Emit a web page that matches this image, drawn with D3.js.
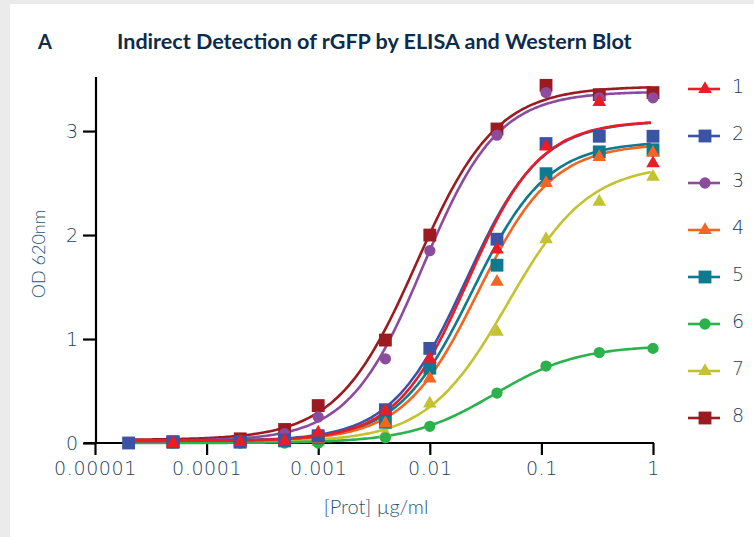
<!DOCTYPE html>
<html>
<head>
<meta charset="utf-8">
<script src="https://cdn.jsdelivr.net/npm/d3@7"></script>
<style>
  html, body { margin: 0; padding: 0; background: #ebebeb; }
  svg { display: block; }
  text { font-family: Lato, "Open Sans", sans-serif; }
  .num { font-family: "DejaVu Sans", sans-serif; font-weight: 200; }
</style>
</head>
<body>
<div id="chart"></div>
<script>
const W = 754, H = 537;

// concentrations (µg/ml) shared by all series
const conc = [0.00002, 0.00005, 0.0002, 0.0005, 0.001, 0.004, 0.01, 0.04, 0.11, 0.33, 1];

const seriesNames = ["1", "2", "3", "4", "5", "6", "7", "8"];
const colors = ["#ec1c24", "#3a53a4", "#8b4c9d", "#f26522", "#0d7a8f", "#2bb24c", "#c3c231", "#9b1b20"];
const shapes = ["triangle", "square", "circle", "triangle", "square", "circle", "triangle", "square"];

// OD 620nm readings
const od1 = [null, 0.00, 0.01, 0.02, 0.10, 0.31, 0.81, 1.86, 2.85, 3.28, 2.69];
const od2 = [0.00, 0.01, 0.01, 0.03, 0.07, 0.32, 0.91, 1.96, 2.88, 2.95, 2.95];
const od3 = [null, 0.01, 0.02, 0.09, 0.25, 0.81, 1.85, 2.96, 3.37, 3.32, 3.32];
const od4 = [null, 0.00, 0.00, 0.01, 0.04, 0.19, 0.62, 1.55, 2.50, 2.75, 2.79];
const od5 = [null, 0.01, 0.01, 0.02, 0.05, 0.20, 0.72, 1.71, 2.59, 2.80, 2.82];
const od6 = [null, 0.00, 0.00, 0.00, 0.00, 0.05, 0.16, 0.48, 0.74, 0.87, 0.91];
const od7 = [null, 0.00, 0.00, 0.00, 0.01, 0.09, 0.38, 1.07, 1.96, 2.32, 2.56];
const od8 = [null, 0.01, 0.04, 0.13, 0.36, 0.99, 2.00, 3.02, 3.44, 3.35, 3.37];
const odValues = [od1, od2, od3, od4, od5, od6, od7, od8];

// 4-parameter logistic fit per series
const fitBottom = [0.02, 0.02, 0.02, 0.02, 0.02, 0.00, 0.01, 0.03];
const fitTop    = [3.10, 3.10, 3.38, 2.88, 2.90, 0.94, 2.68, 3.43];
const fitEC50   = [0.022, 0.021, 0.0087, 0.027, 0.024, 0.038, 0.05, 0.0076];
const fitHill   = [1.35, 1.3, 1.3, 1.3, 1.3, 1.15, 1.2, 1.22];

const xTicks = [0.00001, 0.0001, 0.001, 0.01, 0.1, 1];
const xTickLabels = ["0.00001", "0.0001", "0.001", "0.01", "0.1", "1"];
const yTicks = [0, 1, 2, 3];

const svg = d3.select("#chart").append("svg")
    .attr("width", W)
    .attr("height", H);

// white panel on grey page
svg.append("rect")
    .attr("x", 10).attr("y", 4)
    .attr("width", W - 10).attr("height", H - 4)
    .attr("fill", "#ffffff");

const x = d3.scaleLog().domain([0.00001, 1]).range([95, 653]);
const y = d3.scaleLinear().domain([0, 3.52]).range([443, 77]);

const textColor = "#1d3d5c";

// title
svg.append("text")
    .attr("x", 38).attr("y", 49)
    .attr("font-size", 20).attr("font-weight", 700)
    .attr("fill", "#0d2c4b")
    .text("A");

const title = svg.append("text")
    .attr("x", 117).attr("y", 49)
    .attr("font-size", 20).attr("font-weight", 700)
    .attr("fill", "#0d2c4b")
    .text("Indirect Detection of rGFP by ELISA and Western Blot");
const tw = title.node().getComputedTextLength();
title.attr("font-size", 20 * 515 / tw);

// axes
const yAxis = svg.append("g")
    .attr("transform", "translate(96,0)")
    .call(d3.axisLeft(y).tickValues(yTicks).tickSize(13).tickPadding(5).tickFormat(d3.format("d")));
yAxis.select(".domain").remove();
yAxis.append("line")
    .attr("x1", 0).attr("x2", 0).attr("y1", 77).attr("y2", 443)
    .attr("stroke", "#000").attr("stroke-width", 2.2);
yAxis.selectAll(".tick line").attr("stroke", "#000").attr("stroke-width", 2.2);
yAxis.selectAll(".tick text")
    .attr("class", "num")
    .attr("font-size", 19).attr("fill", textColor)
    .attr("font-family", null);

const xAxis = svg.append("g")
    .attr("transform", "translate(0,443)")
    .call(d3.axisBottom(x).tickValues(xTicks).tickSize(12).tickPadding(7)
        .tickFormat((d, i) => xTickLabels[i]));
xAxis.select(".domain").remove();
xAxis.append("line")
    .attr("x1", 84).attr("x2", 654).attr("y1", 0).attr("y2", 0)
    .attr("stroke", "#000").attr("stroke-width", 2.2);
xAxis.selectAll(".tick line").attr("stroke", "#000").attr("stroke-width", 2.2);
xAxis.selectAll(".tick text")
    .attr("class", "num")
    .attr("font-size", 19).attr("letter-spacing", 0.6).attr("fill", textColor)
    .attr("font-family", null);

// axis titles
svg.append("text")
    .attr("transform", "translate(45,254) rotate(-90)")
    .attr("text-anchor", "middle")
    .attr("font-size", 18).attr("font-weight", 300).attr("fill", "#2a5677")
    .text("OD 620nm");

svg.append("text")
    .attr("x", 376).attr("y", 514)
    .attr("text-anchor", "middle")
    .attr("font-size", 20).attr("font-weight", 300).attr("fill", "#2a5677")
    .text("[Prot] µg/ml");

// fitted curves
const logistic = (i, c) => fitBottom[i] + (fitTop[i] - fitBottom[i]) / (1 + Math.pow(fitEC50[i] / c, fitHill[i]));
const sampleLogs = d3.range(Math.log10(0.00002), 0.0001, 0.02);

const line = d3.line()
    .x(d => x(d[0]))
    .y(d => y(d[1]))
    .curve(d3.curveBasis);

const order = [7, 6, 5, 4, 3, 2, 1, 0];

svg.append("g").selectAll("path.fit")
    .data(order)
    .join("path")
    .attr("class", "fit")
    .attr("fill", "none")
    .attr("stroke", i => colors[i])
    .attr("stroke-width", 2.6)
    .attr("d", i => line(sampleLogs.map(l => [Math.pow(10, l), logistic(i, Math.pow(10, l))])));

// markers
const symbolFor = {
    triangle: d3.symbol().type(d3.symbolTriangle).size(80),
    square: d3.symbol().type(d3.symbolSquare).size(165),
    circle: d3.symbol().type(d3.symbolCircle).size(100)
};

order.forEach(i => {
    const pts = conc.map((c, k) => [c, odValues[i][k]]).filter(p => p[1] !== null);
    svg.append("g").selectAll("path")
        .data(pts)
        .join("path")
        .attr("transform", d => `translate(${x(d[0])},${y(d[1])})`)
        .attr("d", symbolFor[shapes[i]]())
        .attr("fill", colors[i]);
});

// legend
const legend = svg.append("g").selectAll("g")
    .data(seriesNames)
    .join("g")
    .attr("transform", (d, i) => `translate(688,${89 + i * 47})`);

legend.append("line")
    .attr("x1", 0).attr("x2", 32)
    .attr("stroke", (d, i) => colors[i])
    .attr("stroke-width", 2.6);

legend.append("path")
    .attr("transform", "translate(17,0)")
    .attr("d", (d, i) => symbolFor[shapes[i]]())
    .attr("fill", (d, i) => colors[i]);

legend.append("text")
    .attr("class", "num")
    .attr("x", 50).attr("y", 4)
    .attr("text-anchor", "middle")
    .attr("font-size", 19)
    .attr("fill", textColor)
    .text(d => d);
</script>
</body>
</html>
